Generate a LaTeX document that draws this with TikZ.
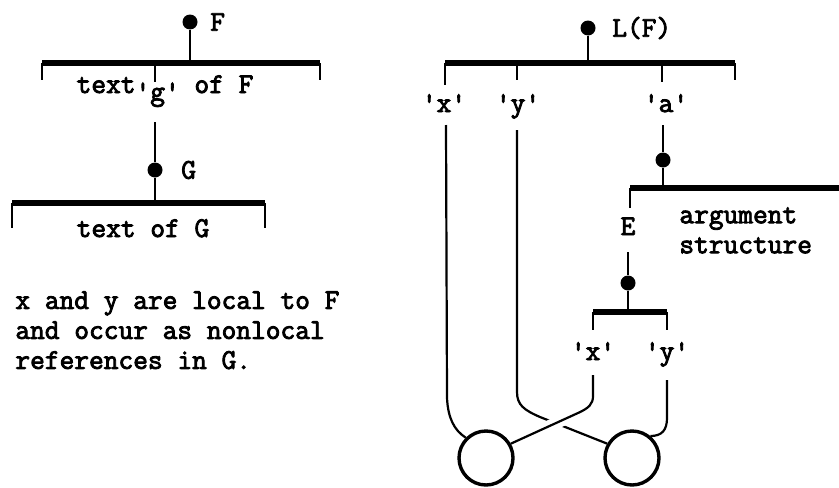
\documentclass[tikz,border=0pt]{standalone}
\usepackage{fontspec}
\setmonofont{Latin Modern Mono}[FakeBold=3]
\usepackage{tikz}
\usetikzlibrary{positioning}
\newcommand{\quoted}[1]{\textquotesingle#1\textquotesingle}
\begin{document}
\begin{tikzpicture}[
  x=0.5pt, y=-0.5pt,
  dotNode/.style={circle, fill=black, inner sep=0pt, minimum size=7.5pt},
  ringNode/.style={circle, draw, line width=1.7pt, fill=white, inner sep=0pt, minimum size=27pt},
  barLine/.style={line width=2.6pt},
  stemLine/.style={line width=1.3pt},
  wireLine/.style={line width=1.1pt},
  tt/.style={font=\ttfamily\fontsize{14.3}{15}\selectfont, inner sep=0pt},
  node distance=5pt
]
\useasboundingbox (0,0) rectangle (839,487);
\node[dotNode] (fdot) at (190,22) {};
\node[tt, right=6pt of fdot] (flab) {F};
\coordinate (fjoin) at (190,63);
\draw[stemLine] (fdot) -- (fjoin);
\draw[barLine] (42,63) -- (320,63);
\draw[stemLine] (42,63) -- (42,80) (320,63) -- (320,80) (155,63) -- (155,82);
\node[tt, anchor=base] (ftext) at (165,93) {text\raisebox{-0.6ex}{\quoted{g}} of F};
\coordinate (gsrc) at (155,122);
\node[dotNode] (gdot) at (155,170) {};
\node[tt, right=9pt of gdot] (glab) {G};
\coordinate (gjoin) at (155,203);
\draw[stemLine] (gsrc) -- (gdot) -- (gjoin);
\draw[barLine] (12,203) -- (265,203);
\draw[stemLine] (12,203) -- (12,228) (265,203) -- (265,228);
\node[tt, anchor=base] (gtext) at (143,237) {text of G};
\node[tt, anchor=north west, align=left] (note) at (15,291) {x and y are local to F\\and occur as nonlocal\\references in G.};

\node[dotNode] (lfdot) at (588,28) {};
\node[tt, right=8pt of lfdot] (lflab) {L(F)};
\coordinate (lfjoin) at (588,63);
\draw[stemLine] (lfdot) -- (lfjoin);
\draw[barLine] (445,63) -- (735,63);
\draw[stemLine] (445,63) -- (445,85) (517,63) -- (517,80) (662,63) -- (662,82) (735,63) -- (735,80);
\node[tt, anchor=base] (xo) at (444,112) {\quoted{x}};
\node[tt, anchor=base] (yo) at (518,112) {\quoted{y}};
\node[tt, anchor=base] (aq) at (666,112) {\quoted{a}};
\coordinate (asrc) at (663,125);
\node[dotNode] (adot) at (663,160) {};
\coordinate (ajoin) at (663,188);
\draw[stemLine] (asrc) -- (adot) -- (ajoin);
\draw[barLine] (630,188) -- (845,188);
\draw[stemLine] (630,188) -- (630,208);
\node[tt, anchor=base] (elab) at (628,235) {E};
\node[tt, anchor=north west, align=left] (argtext) at (679,207) {argument\\structure};
\coordinate (esrc) at (628,252);
\node[dotNode] (edot) at (628,283) {};
\coordinate (ejoin) at (628,312);
\draw[stemLine] (esrc) -- (edot) -- (ejoin);
\draw[barLine] (593,312) -- (667,312);
\draw[stemLine] (593,312) -- (593,330) (667,312) -- (667,330);
\node[tt, anchor=base] (xi) at (593,360) {\quoted{x}};
\node[tt, anchor=base] (yi) at (667,360) {\quoted{y}};

\coordinate (xotop) at (446,125);
\coordinate (yotop) at (517,130);
\coordinate (xitop) at (593,375);
\coordinate (yitop) at (667,380);
\coordinate (ringlpos) at (486,458);
\coordinate (ringrpos) at (632,458);
\path (ringlpos) node[ringNode, draw=none, fill=none] (ringl) {} (ringrpos) node[ringNode, draw=none, fill=none] (ringr) {};
\draw[wireLine] (xotop) -- (447,398) .. controls (448,418) and (454,430) .. (ringl.135);
\draw[wireLine] (yotop) -- (517,392) .. controls (517,405) and (524,410) .. (540,417) -- (ringr.150);
\draw[wireLine, preaction={draw, white, line width=6pt}] (xitop) -- (593,396) .. controls (593,404) and (589,408) .. (578,413) -- (ringl.30);
\draw[wireLine] (yitop) -- (667,418) .. controls (667,430) and (662,436) .. (ringr.50);
\node[ringNode] at (ringlpos) {};
\node[ringNode] at (ringrpos) {};
\end{tikzpicture}
\end{document}
